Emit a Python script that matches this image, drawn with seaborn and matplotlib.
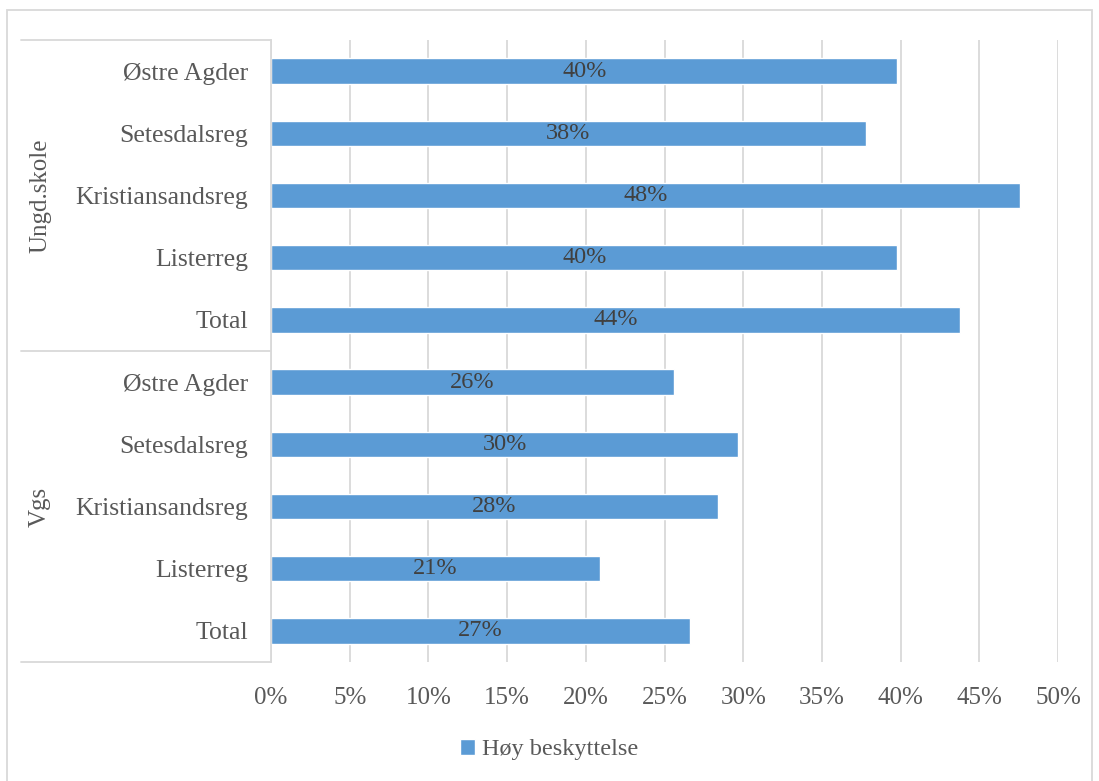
import pandas as pd
import matplotlib.pyplot as plt
import matplotlib.transforms as mtransforms
from matplotlib.patches import Rectangle
import seaborn as sns

# Data (percent)
groups = ['Ungd.skole'] * 5 + ['Vgs'] * 5
regions = ['Østre Agder', 'Setesdalsreg', 'Kristiansandsreg', 'Listerreg', 'Total',
           'Østre Agder', 'Setesdalsreg', 'Kristiansandsreg', 'Listerreg', 'Total']
values = [39.8, 37.8, 47.6, 39.8, 43.8,
          25.6, 29.7, 28.4, 20.9, 26.6]
series_name = 'Høy beskyttelse'

df = pd.DataFrame({'group': groups, 'region': regions, 'value': values})
df['key'] = df['group'] + '|' + df['region']

sns.set_style('white')
plt.rcParams['font.family'] = ['Liberation Serif']
text_color = '#595959'
bar_color = '#5B9BD5'
grid_color = '#D9D9D9'

fig = plt.figure(figsize=(10.99, 7.81), dpi=100)
ax = fig.add_axes([0.2466, 0.1524, 0.7161, 0.7964])

sns.barplot(data=df, x='value', y='key', order=list(df['key']), color=bar_color,
            width=0.41, saturation=1, ax=ax, label=series_name)

ax.set_xlim(0, 50)
ax.set_ylim(9.5, -0.5)
ax.set_xticks(range(0, 51, 5))
ax.set_xticklabels([f'{t}%' for t in range(0, 51, 5)], fontsize=18, color=text_color)
ax.set_yticks(range(len(df)))
ax.set_yticklabels(df['region'], fontsize=18.5, color=text_color)
ax.tick_params(axis='x', length=0, pad=18)
ax.tick_params(axis='y', length=0, pad=16.5)
ax.set_xlabel('')
ax.set_ylabel('')
ax.xaxis.grid(True, color=grid_color, linewidth=1.3)
ax.set_axisbelow(True)
for s in ['top', 'right', 'bottom']:
    ax.spines[s].set_visible(False)
ax.spines['left'].set_color(grid_color)
ax.spines['left'].set_linewidth(1.3)

# data labels
labels = [f'{v:.0f}%' for v in df['value']]
ax.bar_label(ax.containers[0], labels=labels, label_type='center',
             fontsize=17.5, color='#404040')

# multi-level category axis: group labels and separator lines
trans = mtransforms.blended_transform_factory(ax.transAxes, ax.transData)
x_left = -0.3177
for y in [-0.5, 4.5, 9.5]:
    ax.plot([x_left, 0], [y, y], transform=trans, color=grid_color,
            linewidth=1.3, clip_on=False)
for name, (lo, hi) in [('Ungd.skole', (-0.5, 4.5)), ('Vgs', (4.5, 9.5))]:
    ax.text(-0.2935, (lo + hi) / 2, name, transform=trans, rotation=90,
            ha='center', va='center', fontsize=18, color=text_color)

# legend
handles, lbls = ax.get_legend_handles_labels()
if ax.get_legend() is not None:
    ax.get_legend().remove()
fig.legend(handles, lbls, loc='center', bbox_to_anchor=(0.5, 0.04), frameon=False,
           fontsize=17.5, labelcolor=text_color, handlelength=0.6, handleheight=0.6,
           handletextpad=0.3)

# outer chart border (bottom edge runs off the canvas)
fig.patches.append(Rectangle((7 / 1099, -0.05), 1085 / 1099, 1.05 - 10 / 781,
                             transform=fig.transFigure, fill=False,
                             edgecolor=grid_color, linewidth=1.3))

fig.savefig('out.png', dpi=100)
